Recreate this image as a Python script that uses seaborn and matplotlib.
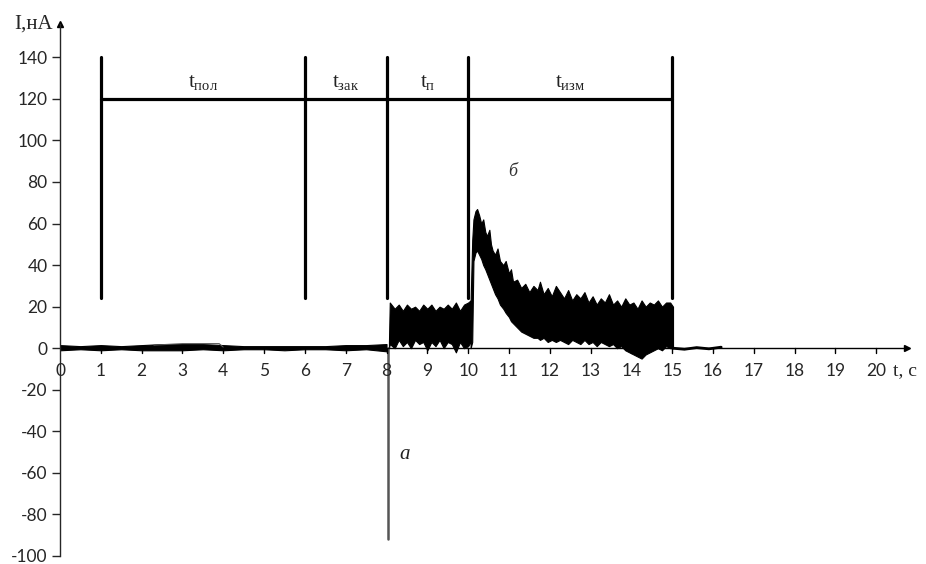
import matplotlib
matplotlib.use("Agg")
import matplotlib.pyplot as plt
import seaborn as sns

# ---- data ----
base_t = [0, 0.5, 1, 1.5, 2, 2.5, 3, 3.5, 4, 4.5, 5, 5.5, 6, 6.5, 7, 7.5, 8.0]
base_hi = [1.5, 1.0, 1.5, 1.0, 1.5, 2.0, 2.0, 2.0, 1.5, 1.0, 1.0, 1.0, 1.0, 1.0, 1.5, 1.5, 2.0]
base_lo = [-1.0, -0.5, -1.0, -0.5, -1.0, -1.0, -1.0, -0.5, -1.0, -0.5, -0.5, -1.0, -0.5, -0.5, -1.0, -0.5, -1.5]

loop_t = [2.3, 3.0, 3.9, 4.0]
loop_v = [1.5, 2.2, 2.2, 0.5]

spike_t = [8.03, 8.03]
spike_v = [0, -92]

plat_t = [8.06, 8.08, 8.2, 8.3, 8.4, 8.5, 8.6, 8.7, 8.8, 8.9, 9.0, 9.1, 9.2, 9.3,
          9.4, 9.5, 9.6, 9.7, 9.8, 9.9, 10.0, 10.06]
plat_hi = [3, 22, 19, 21, 18, 21, 19, 20, 18, 21, 19, 21, 18, 20,
           19, 21, 19, 22, 18, 21, 22, 23]
plat_lo = [0, 2, 0, 4, 1, 3, 0, 4, 2, 3, -1, 3, 1, 4,
           0, 3, 2, -2, 3, 0, 1, 3]

dec_t = [10.06, 10.1, 10.13, 10.18, 10.22, 10.27, 10.32, 10.37, 10.42, 10.46,
         10.52, 10.56, 10.6, 10.66, 10.72, 10.78, 10.86, 10.92, 11.0, 11.05,
         11.1, 11.2, 11.3, 11.4, 11.5, 11.6, 11.7, 11.76, 11.85, 11.95,
         12.05, 12.15, 12.25, 12.35, 12.45, 12.55, 12.65, 12.75, 12.85, 12.95,
         13.05, 13.15, 13.25, 13.35, 13.45, 13.55, 13.65, 13.75, 13.85, 13.95,
         14.05, 14.15, 14.25, 14.35, 14.45, 14.55, 14.65, 14.75, 14.85, 14.95,
         15.02]
dec_hi = [22, 52, 62, 66, 67, 64, 60, 62, 56, 54,
          57, 50, 47, 45, 48, 42, 40, 42, 36, 38,
          32, 33, 29, 31, 27, 30, 28, 32, 26, 29,
          25, 30, 27, 24, 28, 23, 26, 24, 27, 22,
          25, 21, 24, 22, 26, 21, 23, 20, 24, 21,
          22, 19, 23, 20, 22, 21, 23, 20, 22, 22,
          20]
dec_lo = [0, 3, 42, 46, 47, 45, 43, 40, 38, 36,
          33, 31, 29, 26, 24, 21, 19, 17, 15, 13,
          12, 10, 8, 7, 6, 5, 5, 4, 5, 3,
          4, 3, 4, 3, 2, 4, 3, 2, 4, 2,
          3, 1, 3, 2, 1, 2, 0, 1, -1, -2,
          -3, -4, -5, -3, -2, -1, 0, -1, 1, 0,
          0]

tail_t = [15.02, 15.3, 15.6, 15.9, 16.2]
tail_v = [0, -0.5, 0.3, -0.3, 0.5]

seg_x = [1, 6, 8, 10, 15]
seg_lo, seg_hi, seg_level = 24, 140, 120
phase_labels = ["пол", "зак", "п", "изм"]
phase_x = [3.5, 7.0, 9.0, 12.5]
phase_y = 128

y_ticks = [-100, -80, -60, -40, -20, 0, 20, 40, 60, 80, 100, 120, 140]
x_ticks = list(range(0, 21))

# ---- figure ----
sns.set_style("white")
plt.rcParams["mathtext.fontset"] = "custom"
plt.rcParams["mathtext.rm"] = "Liberation Serif"
plt.rcParams["mathtext.it"] = "Liberation Serif:italic"

fig = plt.figure(figsize=(9.26, 5.64), dpi=100)
ax = fig.add_axes([60 / 926, 8 / 564, (913 - 60) / 926, (556 - 22) / 564])
ax.set_xlim(0, 20.9)
ax.set_ylim(-100, 157)

# signal
ax.fill_between(base_t, base_lo, base_hi, color="black", lw=0.8)
sns.lineplot(x=loop_t, y=loop_v, ax=ax, color="#555555", lw=0.8)
sns.lineplot(x=spike_t, y=spike_v, ax=ax, color="#555555", lw=1.8, estimator=None, sort=False)
ax.fill_between(plat_t, plat_lo, plat_hi, color="black", lw=0.8)
ax.fill_between(dec_t, dec_lo, dec_hi, color="black", lw=0.8)
sns.lineplot(x=tail_t, y=tail_v, ax=ax, color="black", lw=2.0)

# phase markers
for xv in seg_x:
    ax.plot([xv, xv], [seg_lo, seg_hi], color="black", lw=2.3)
ax.plot([seg_x[0], seg_x[-1]], [seg_level, seg_level], color="black", lw=2.3)
for lab, xv in zip(phase_labels, phase_x):
    ax.text(xv, phase_y, r"$\mathrm{t}_{\mathrm{%s}}$" % lab, fontsize=15,
            ha="center", va="center", color="#222222")

ax.text(11.1, 85, "б", fontsize=13, style="italic", family="Liberation Serif",
        ha="center", va="center", color="#333333")
ax.text(8.45, -51, "a", fontsize=15, style="italic", family="Liberation Serif",
        ha="center", va="center", color="#222222")

# axes styling
for s in ["top", "right", "bottom"]:
    ax.spines[s].set_visible(False)
ax.spines["left"].set_position(("data", 0))
ax.spines["left"].set_bounds(-100, 156)
ax.spines["left"].set_linewidth(1.0)
ax.plot([0, 20.7], [0, 0], color="black", lw=1.0)
ax.plot(20.75, 0, marker=">", ms=5, color="black", clip_on=False)
ax.plot(0, 156, marker="^", ms=5, color="black", clip_on=False)

ax.set_yticks(y_ticks)
ax.set_yticklabels([str(v) for v in y_ticks], family="Lato", fontsize=12.5)
ax.tick_params(axis="y", direction="out", length=6, width=1, left=True, pad=3)
ax.set_xticks([])
for xv in x_ticks:
    if xv > 0:
        ax.plot([xv, xv], [0, -2.5], color="black", lw=1.0)
    ax.text(xv, -11, str(xv), family="Lato", fontsize=12.5, ha="center", va="center")

ax.text(20.42, -11, "t, c", family="Liberation Serif", fontsize=14, ha="left",
        va="center", clip_on=False)
fig.text(14 / 926, 1 - 24 / 564, "I,нА", family="Liberation Serif", fontsize=15,
         ha="left", va="center")

fig.savefig("out.png", dpi=100)
